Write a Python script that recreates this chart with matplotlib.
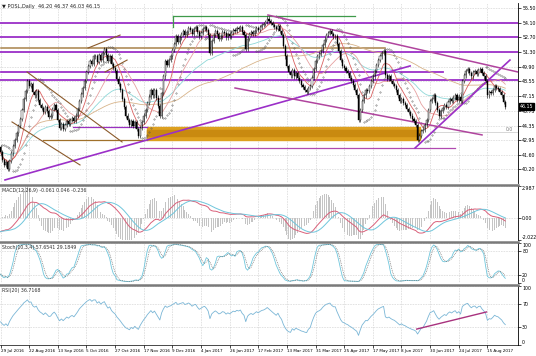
import numpy as np
import pandas as pd
import matplotlib
matplotlib.use('Agg')
import matplotlib.pyplot as plt
from matplotlib.lines import Line2D
from matplotlib.transforms import blended_transform_factory

# daily closes of POSL (one per bar)
close = [41.8, 41.1, 40.6, 40.9, 40.2, 41.0, 41.7, 42.4, 43.0, 43.6,
         44.3, 45.0, 45.8, 46.9, 47.6, 48.6, 48.1, 48.3, 47.5, 47.2,
         47.6, 46.8, 46.3, 46.0, 45.6, 46.1, 45.7, 45.2, 45.3, 45.9,
         46.3, 45.8, 44.9, 44.1, 44.5, 44.0, 44.4, 44.8, 44.5, 44.9,
         45.1, 44.8, 45.3, 45.9, 46.7, 47.3, 47.9, 48.6, 49.4, 50.0,
         50.5, 50.2, 50.9, 50.9, 50.4, 51.0, 50.6, 51.2, 51.6, 51.0,
         50.5, 50.9, 50.2, 49.8, 49.5, 48.8, 48.3, 47.7, 46.9, 46.1,
         45.3, 44.9, 44.4, 44.8, 44.3, 44.7, 44.0, 43.4, 44.1, 44.7,
         45.3, 45.8, 46.5, 47.1, 47.7, 47.2, 47.7, 47.0, 46.2, 45.3,
         47.4, 49.0, 50.5, 50.1, 50.6, 50.9, 51.5, 52.1, 52.8, 52.3,
         52.7, 53.0, 53.3, 52.9, 53.2, 53.6, 53.4, 53.0, 53.5, 53.7,
         53.2, 52.8, 53.1, 53.5, 53.7, 53.4, 52.9, 51.2, 52.4, 52.9,
         53.3, 53.0, 52.6, 52.8, 53.2, 53.1, 52.7, 53.0, 52.8, 53.1,
         53.4, 53.3, 53.6, 53.5, 53.7, 53.2, 52.9, 51.6, 52.6, 53.0,
         53.2, 53.0, 53.3, 53.6, 53.4, 53.7, 53.9, 54.0, 54.2, 54.5,
         54.3, 54.1, 53.9, 53.7, 53.5, 53.8, 53.3, 52.9, 51.9, 50.9,
         50.0, 49.4, 49.1, 49.6, 49.0, 49.3, 48.9, 48.6, 48.2, 48.0,
         47.7, 47.5, 47.9, 48.1, 48.9, 49.7, 50.5, 50.9, 51.1, 51.4,
         52.0, 52.5, 52.9, 53.1, 53.3, 53.0, 52.8, 52.8, 52.1, 51.4,
         50.6, 50.0, 49.8, 49.5, 49.3, 48.9, 48.6, 48.2, 47.7, 47.2,
         44.9, 45.8, 46.7, 47.2, 47.7, 47.6, 48.1, 48.6, 49.0, 49.5,
         50.1, 50.6, 50.9, 51.2, 51.4, 49.1, 48.8, 49.0, 48.6, 48.3,
         48.1, 47.7, 47.2, 46.7, 46.9, 46.5, 46.3, 45.9, 45.6, 45.3,
         45.0, 44.8, 44.4, 43.0, 43.4, 43.8, 43.9, 44.4, 44.9, 45.8,
         46.7, 46.9, 47.2, 46.5, 45.8, 45.3, 45.7, 46.0, 46.3, 46.1,
         46.6, 46.9, 46.7, 47.0, 47.2, 46.8, 47.1, 46.7, 48.6, 49.1,
         49.5, 49.7, 49.3, 49.0, 49.4, 49.5, 49.2, 49.6, 49.7, 49.3,
         49.0, 48.6, 47.2, 47.5, 47.4, 47.7, 48.1, 47.9, 47.8, 47.5,
         47.2, 46.6, 46.15]
first_open = 42.3
wick = 0.2

# indicator state carried in from the bars before the visible window
ema_fast_seed = 41.2
ema_slow_seed = 42.6
rsi_gain_seed = 0.22
rsi_loss_seed = 0.34

date_labels = ['29 Jul 2016', '22 Aug 2016', '13 Sep 2016', '5 Oct 2016', '27 Oct 2016',
               '17 Nov 2016', '9 Dec 2016', '4 Jan 2017', '26 Jan 2017', '17 Feb 2017',
               '13 Mar 2017', '31 Mar 2017', '25 Apr 2017', '17 May 2017', '8 Jun 2017',
               '30 Jun 2017', '24 Jul 2017', '15 Aug 2017']
bars_per_label = 16

price_ticks = [55.50, 54.10, 52.70, 51.30, 49.90, 48.55, 47.15, 45.75, 44.35, 42.95, 41.60, 40.20]
last_price = 46.15

# analyst drawings: (bar, price) end points
purple_levels = [54.10, 52.70, 51.30, 48.70]
purple_level_short = (0, 247, 49.45)
brown_level = (0, 215, 51.67)
zone = (81.8, 234.4, 42.98, 44.21)
thin_levels = [(78, 254, 42.22, '#b04ab0'), (40.5, 81.8, 44.24, '#9a30c0'), (23.7, 81.8, 42.98, '#a0702a')]
green_level = (96.4, 198, 54.70)
purple_trend = [((2.5, 39.19), (228.8, 50.0)), ((231.6, 42.22), (284.6, 50.56))]
magenta_trend = [((149.4, 54.83), (289, 49.43)), ((131, 47.91), (269, 43.46))]
brown_trend = [((14.8, 49.43), (67.9, 42.79)), ((6.4, 44.69), (44.4, 40.61)),
               ((48.9, 51.70), (66.8, 52.93)), ((58.4, 49.43), (70.7, 50.56))]
rsi_trend = ((232.5, 27.0), (271.5, 56.0))

#build OHLC from closes
c = np.array(close)
o = np.concatenate([[first_open], c[:-1]])
hi = np.maximum(o, c) + wick
lo = np.minimum(o, c) - wick
n = len(c)
x = np.arange(n)
s = pd.Series(c)

#Function for EMA starting from a seed value
def ema(values, span, seed):
    alpha = 2.0 / (span + 1)
    out = []
    prev = seed
    for v in values:
        prev = prev + alpha * (v - prev)
        out.append(prev)
    return np.array(out)

#Function for Wilder RSI
def rsi_calc(values, period, g0, l0):
    out = []
    g, l = g0, l0
    prev = values[0]
    for v in values:
        ch = v - prev
        prev = v
        g = (g * (period - 1) + max(ch, 0)) / period
        l = (l * (period - 1) + max(-ch, 0)) / period
        out.append(100 - 100 / (1 + g / l))
    return np.array(out)

#Function for parabolic SAR
def psar(high, low, step=0.02, max_step=0.2):
    sar = np.zeros(len(high))
    up = True
    af = step
    ep = high[0]
    sar[0] = low[0]
    for i in range(1, len(high)):
        prev = sar[i - 1]
        sar[i] = prev + af * (ep - prev)
        if up:
            sar[i] = min(sar[i], low[i - 1], low[max(i - 2, 0)])
            if low[i] < sar[i]:
                up = False
                sar[i] = ep
                ep = low[i]
                af = step
            elif high[i] > ep:
                ep = high[i]
                af = min(af + step, max_step)
        else:
            sar[i] = max(sar[i], high[i - 1], high[max(i - 2, 0)])
            if high[i] > sar[i]:
                up = True
                sar[i] = ep
                ep = high[i]
                af = step
            elif low[i] < ep:
                ep = low[i]
                af = min(af + step, max_step)
    return sar

sar = psar(hi, lo)

macd = pd.Series(ema(c, 12, ema_fast_seed) - ema(c, 26, ema_slow_seed))
signal = macd.rolling(9, min_periods=1).mean()
osma = macd - signal

ll = pd.Series(lo).rolling(10, min_periods=1).min()
hh = pd.Series(hi).rolling(10, min_periods=1).max()
k = 100 * (s - ll).rolling(4, min_periods=1).sum() / (hh - ll).rolling(4, min_periods=1).sum()
d = k.rolling(3, min_periods=1).mean()

rsi = rsi_calc(c, 14, rsi_gain_seed, rsi_loss_seed)

W, H = 536, 356
fig = plt.figure(figsize=(W / 100, H / 100), dpi=100)
fig.patch.set_facecolor('white')

def panel(top, bottom):
    return fig.add_axes([0, 1 - bottom / H, 518 / W, (bottom - top) / H])

ax = panel(3, 183)
ax_macd = panel(186, 240)
ax_st = panel(243, 283)
ax_rsi = panel(286, 345)

xlim = (-0.3, 289.1)
tick_x = [i * bars_per_label for i in range(len(date_labels))]
for a in [ax, ax_macd, ax_st, ax_rsi]:
    a.set_xlim(*xlim)
    a.set_facecolor('white')
    for sp in ['top', 'left', 'bottom']:
        a.spines[sp].set_visible(False)
    a.spines['right'].set_linewidth(0.6)
    a.yaxis.tick_right()
    a.tick_params(axis='y', labelsize=3.4, length=2, width=0.5, pad=1)
    a.set_xticks(tick_x)
    a.tick_params(axis='x', length=0, labelbottom=False)
    a.grid(True, color='#b8b8b8', linestyle=(0, (1, 1.6)), linewidth=0.45)
    a.set_axisbelow(True)

# main price panel
ax.set_ylim(38.9, 55.97)
ax.set_yticks(price_ticks)
ax.set_yticklabels(['%.2f' % p for p in price_ticks])

ax.fill_between([zone[0], zone[1]], zone[2], zone[3], color='#dda01f', zorder=1)
ax.fill_between([zone[0], zone[1]], zone[2] + 0.35, zone[3] - 0.3, color='#c98a10', zorder=1)
for p in purple_levels:
    ax.axhline(p, color='#9b2fc8', linewidth=1.3, zorder=2)
ax.plot(purple_level_short[:2], [purple_level_short[2]] * 2, color='#9b2fc8', linewidth=1.3, zorder=2)
ax.plot(brown_level[:2], [brown_level[2]] * 2, color='#a8824a', linewidth=1.1, zorder=2)
for x0, x1, p, col in thin_levels:
    ax.plot([x0, x1], [p, p], color=col, linewidth=0.9, zorder=2)
ax.plot(green_level[:2], [green_level[2]] * 2, color='#3f9a4a', linewidth=0.9, zorder=2)
ax.plot([green_level[0]] * 2, [green_level[2], 53.7], color='#3f9a4a', linewidth=0.9, zorder=2)
ax.plot([240, 289], [43.75, 43.75], color='#c8c8c8', linewidth=0.5, zorder=2)
ax.text(282, 43.85, '0.0', fontsize=3.3, color='#777777')

ax.plot(x, s.rolling(100, min_periods=1).mean(), color='#d8b48a', linewidth=0.6, zorder=3)
ax.plot(x, s.ewm(span=50, adjust=False).mean(), color='#8fd8d8', linewidth=0.6, zorder=3)
ax.plot(x, s.rolling(21, min_periods=1).mean(), color='#e6a0a0', linewidth=0.6, zorder=3)
ax.plot(x, s.rolling(8, min_periods=1).mean(), color='#d96060', linewidth=0.6, zorder=3)
ax.plot(x, sar, linestyle='none', marker='.', markersize=0.6, color='#555555', zorder=3)

for (x0, y0), (x1, y1) in purple_trend:
    ax.plot([x0, x1], [y0, y1], color='#9b2fc8', linewidth=1.2, zorder=4)
for (x0, y0), (x1, y1) in magenta_trend:
    ax.plot([x0, x1], [y0, y1], color='#b0449e', linewidth=1.1, zorder=4)
for (x0, y0), (x1, y1) in brown_trend:
    ax.plot([x0, x1], [y0, y1], color='#8b5a2b', linewidth=0.8, zorder=4)

# candles
ax.vlines(x, lo, hi, color='black', linewidth=0.4, zorder=5)
bull = c >= o
ax.bar(x[bull], (c - o)[bull], bottom=o[bull], width=0.6, color='white',
       edgecolor='black', linewidth=0.3, zorder=6)
ax.bar(x[~bull], (o - c)[~bull], bottom=c[~bull], width=0.6, color='black',
       edgecolor='black', linewidth=0.3, zorder=6)

ax.text(0.004, 0.992, '\u25bc POSL,Daily  46.20 46.37 46.03 46.15', transform=ax.transAxes,
        fontsize=3.6, va='top', ha='left', color='#222222')
tr = blended_transform_factory(ax.transAxes, ax.transData)
ax.text(1.004, last_price, '%.2f' % last_price, transform=tr, fontsize=3.4, color='white',
        va='center', ha='left', clip_on=False,
        bbox=dict(boxstyle='square,pad=0.15', fc='black', ec='black'))

# MACD
ax_macd.set_ylim(-2.022, 2.987)
ax_macd.set_yticks([2.987, 0.0, -2.022])
ax_macd.set_yticklabels(['2.987', '0.00', '-2.022'])
ax_macd.bar(x, osma * 3, width=0.5, color='#c4c4c4', zorder=2)
ax_macd.plot(x, macd, color='#d9607a', linewidth=0.7, zorder=3)
ax_macd.plot(x, signal, color='#6fc6dc', linewidth=0.7, zorder=3)
ax_macd.text(0.004, 0.96, 'MACD(12,26,9) -0.061 0.046 -0.236', transform=ax_macd.transAxes,
             fontsize=3.4, va='top', color='#333333')

# Stochastic
ax_st.set_ylim(0, 100)
ax_st.set_yticks([100, 80, 20, 0])
ax_st.plot(x, k, color='#6fc6dc', linewidth=0.6, zorder=3)
ax_st.plot(x, d, color='#666666', linewidth=0.5, linestyle=(0, (1.2, 1.4)), zorder=3)
ax_st.text(0.004, 0.95, 'Stoch(10,3,4) 57.6541 29.1849', transform=ax_st.transAxes,
           fontsize=3.4, va='top', color='#333333')

# RSI
ax_rsi.set_ylim(0, 100)
ax_rsi.set_yticks([100, 70, 30, 0])
ax_rsi.plot(x, rsi, color='#7ab6d6', linewidth=0.6, zorder=3)
ax_rsi.plot([rsi_trend[0][0], rsi_trend[1][0]], [rsi_trend[0][1], rsi_trend[1][1]],
            color='#a8327e', linewidth=1.0, zorder=4)
ax_rsi.text(0.004, 0.96, 'RSI(20) 36.7168', transform=ax_rsi.transAxes,
            fontsize=3.4, va='top', color='#333333')
ax_rsi.spines['bottom'].set_visible(True)
ax_rsi.spines['bottom'].set_linewidth(0.5)
ax_rsi.tick_params(axis='x', labelbottom=True, length=2, width=0.5, labelsize=3.0, pad=1)
ax_rsi.set_xticklabels(date_labels, ha='left')

# keep the edge labels of each sub window inside it
for a in [ax_macd, ax_st, ax_rsi]:
    labs = a.get_yticklabels()
    labs[0].set_va('top')
    labs[-1].set_va('bottom')

# panel separators
for yy in [184.5, 241.5, 284.5]:
    fig.add_artist(Line2D([0, 518 / W], [1 - yy / H] * 2, color='#7a7a7a', linewidth=1.8,
                          transform=fig.transFigure))

fig.savefig('out.png', dpi=100)
